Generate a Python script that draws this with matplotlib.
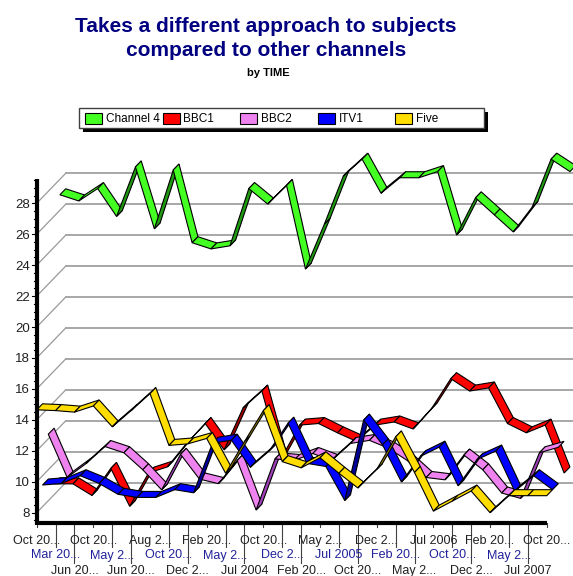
import matplotlib
matplotlib.use("Agg")
import matplotlib.pyplot as plt
from matplotlib.patches import Polygon, Rectangle

plt.rcParams["font.family"] = ["Liberation Sans", "DejaVu Sans"]

# x labels as shown (truncated by the original tool)
labels = ["Oct 20...", "Mar 20...", "Jun 20...", "Oct 20...", "May 2...", "Jun 20...",
          "Aug 2...", "Oct 20...", "Dec 2...", "Feb 20...", "May 2...", "Jul 2004",
          "Oct 20...", "Dec 2...", "Feb 20...", "May 2...", "Jul 2005", "Oct 20...",
          "Dec 2...", "Feb 20...", "May 2...", "Jul 2006", "Oct 20...", "Dec 2...",
          "Feb 20...", "May 2...", "Jul 2007", "Oct 20..."]

channel4 = [27.0, 26.6, 27.4, 25.6, 28.8, 24.8, 28.6, 23.9, 23.5, 23.7, 27.4, 26.4, 27.6, 22.2,
            25.1, 28.2, 29.3, 27.1, 28.1, 28.1, 28.5, 24.4, 26.8, 25.7, 24.6, 26.2, 29.3, 28.5]
bbc1 = [8.7, 8.7, 7.95, 9.7, 7.25, 9.4, 9.8, 11.3, 12.6, 10.9, 13.6, 14.7, 10.3, 12.5,
        12.6, 12.0, 11.45, 12.5, 12.7, 12.25, 13.6, 15.5, 14.7, 14.9, 12.6, 12.0, 12.5, 9.4]
bbc2 = [12.3, 9.5, 10.4, 11.5, 11.1, 10.0, 8.7, 11.0, 9.4, 9.1, 10.6, 7.4, 10.7, 10.6,
        11.05, 10.6, 11.7, 11.9, 11.4, 10.6, 9.5, 9.35, 10.95, 10.0, 8.5, 8.15, 11.1, 11.45]
itv1 = [9.4, 9.5, 10.0, 9.5, 8.8, 8.6, 8.6, 9.1, 8.9, 12.1, 12.3, 10.55, 11.6, 13.4,
        10.8, 10.6, 8.4, 13.6, 12.0, 9.6, 11.25, 11.85, 9.35, 11.05, 11.6, 9.0, 10.0, 9.1]
five = [14.65, 14.6, 14.5, 14.9, 13.55, 14.6, 15.7, 12.35, 12.45, 12.8, 10.55, 12.6, 14.6, 11.3,
        10.9, 11.55, 10.55, 9.6, 10.8, 12.9, 10.6, 8.1, 8.75, 9.4, 8.0, 9.1, 9.1, 9.1]

# name, values, colour, shade, depth slot (0 = front)
series = [
    ("Channel 4", channel4, "#44ff22", "#1f9a10", 4),
    ("BBC1", bbc1, "#ff0000", "#a00000", 3),
    ("BBC2", bbc2, "#ee82ee", "#a040b8", 2),
    ("ITV1", itv1, "#0000ff", "#000098", 1),
    ("Five", five, "#ffdd00", "#a08800", 0),
]

W, H = 573, 576
fig = plt.figure(figsize=(W / 100, H / 100), dpi=100)
ax = fig.add_axes([0, 0, 1, 1])
ax.axis("off")

# pixel layout
x0_px, step_px = 36.7, 18.89
y28_px, unit_px = 203.3, 15.47
ax.set_xlim(-x0_px / step_px, (W - x0_px) / step_px)
ax.set_ylim(28 - (H - y28_px) / unit_px, 28 + y28_px / unit_px)


def py2v(py):
    return 28 - (py - y28_px) / unit_px


ymin, ymax = py2v(523), py2v(179)
slot_px = (5.8, 6.0)
sdx, sdy = slot_px[0] / step_px, slot_px[1] / unit_px
depth_x, depth_y = 5 * sdx, 5 * sdy
xmax = ax.get_xlim()[1]
n = len(labels)

# back wall grid + diagonals
for v in range(8, 29, 2):
    ax.plot([0, depth_x], [v, v + depth_y], color="#999999", lw=0.9, zorder=1)
    ax.plot([depth_x, xmax], [v + depth_y, v + depth_y], color="#a0a0a0", lw=1.3, zorder=1)

# ribbons, back to front
z = 5
for name, vals, col, dark, k in series:
    ox, oy = k * sdx, k * sdy
    for i in range(n - 1):
        f0 = (i + ox, vals[i] + oy)
        f1 = (i + 1 + ox, vals[i + 1] + oy)
        b1 = (f1[0] + sdx, f1[1] + sdy)
        b0 = (f0[0] + sdx, f0[1] + sdy)
        rise = (vals[i + 1] - vals[i]) * unit_px
        cross = step_px * slot_px[1] - rise * slot_px[0]
        fc = col if cross >= 0 else dark
        ax.add_patch(Polygon([f0, f1, b1, b0], closed=True, facecolor=fc,
                             edgecolor="black", lw=0.8, zorder=z))
        z += 1

# axes lines
ax.plot([0, 0], [ymin - 0.1, ymax], color="black", lw=3, solid_capstyle="butt", zorder=200)
ax.plot([0, n - 1], [ymin, ymin], color="black", lw=3, solid_capstyle="butt", zorder=200)

# y ticks
for j in range(0, 45):
    v = 7.5 + 0.5 * j
    if v > ymax:
        break
    major = (v % 2 == 0)
    ln = (5 if major else 3) / step_px
    ax.plot([-ln, 0], [v, v], color="black", lw=0.8, zorder=200)
for v in range(8, 29, 2):
    ax.text(-7 / step_px, v, str(v), ha="right", va="center_baseline", fontsize=9.5,
            color="#202020")

# x ticks and staggered labels
row_py = [544, 558.5, 574]
row_col = ["#202020", "#20209a", "#202020"]
lead_py = [527, 547, 563]
for i, lab in enumerate(labels):
    r = i % 3
    ax.plot([i, i], [ymin, py2v(lead_py[r])], color="#404040", lw=0.8, zorder=1)
    ax.text(i, py2v(row_py[r]), lab, ha="center", va="baseline", fontsize=9, color=row_col[r])

# title
fig.text(266 / W, 1 - 31.5 / H, "Takes a different approach to subjects", ha="center",
         va="baseline", fontsize=15, fontweight="bold", color="#000080")
fig.text(266 / W, 1 - 55.5 / H, "compared to other channels", ha="center",
         va="baseline", fontsize=15, fontweight="bold", color="#000080")
fig.text(268 / W, 1 - 76 / H, "by TIME", ha="center", va="baseline", fontsize=8,
         fontweight="bold", color="black")


# legend
def frect(x, y, w, h, **kw):
    fig.patches.append(Rectangle((x / W, 1 - (y + h) / H), w / W, h / H,
                                 transform=fig.transFigure, **kw))


frect(83, 112, 405, 20, facecolor="black", edgecolor="none")
frect(79, 108, 405, 20, facecolor="white", edgecolor="#404040", lw=1)
legend_order = ["Channel 4", "BBC1", "BBC2", "ITV1", "Five"]
colors = {s[0]: s[2] for s in series}
for j, name in enumerate(legend_order):
    sx = 85 + j * 77.5
    frect(sx, 113, 17, 11, facecolor=colors[name], edgecolor="black", lw=0.8)
    fig.text((sx + 21) / W, 1 - 122 / H, name, ha="left", va="baseline", fontsize=8.5)

fig.savefig("out.png", dpi=100)
